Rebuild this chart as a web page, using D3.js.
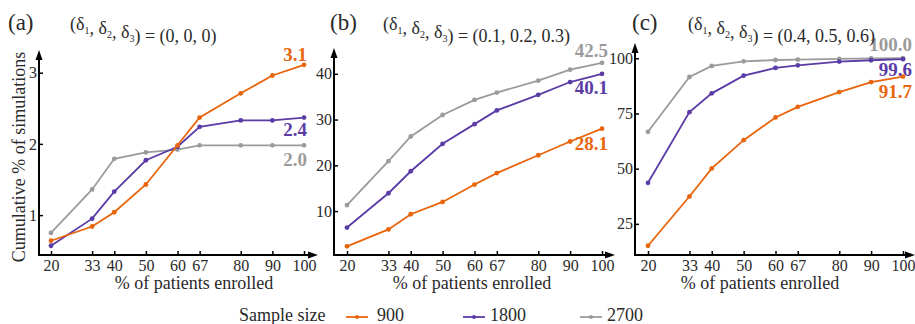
<!DOCTYPE html>
<html>
<head>
<meta charset="utf-8">
<script src="https://cdn.jsdelivr.net/npm/d3@7"></script>
</head>
<body style="margin:0; background:#fff">
<svg id="chart" width="915" height="324" font-family="Liberation Serif" style="display:block"></svg>
<script>

// % of patients enrolled (x categories)
var enrolled = [20, 33, 40, 50, 60, 67, 80, 90, 100];
var sampleSizes = ["900", "1800", "2700"];
var colours = ["#e8650c", "#5b3ba6", "#9b9b9b"];

// panel (a): deltas = (0, 0, 0)
var a900  = [0.64, 0.84, 1.04, 1.43, 1.98, 2.37, 2.71, 2.96, 3.11];
var a1800 = [0.57, 0.95, 1.33, 1.77, 1.96, 2.24, 2.33, 2.33, 2.37];
var a2700 = [0.75, 1.36, 1.79, 1.88, 1.92, 1.98, 1.98, 1.98, 1.98];
var aTicks = [1, 2, 3];
var aLabels = ["3.1", "2.4", "2.0"];

// panel (b): deltas = (0.1, 0.2, 0.3)
var b900  = [2.3, 6.0, 9.3, 12.0, 15.8, 18.3, 22.2, 25.2, 28.0];
var b1800 = [6.4, 13.9, 18.7, 24.7, 29.0, 32.0, 35.4, 38.2, 40.0];
var b2700 = [11.3, 20.9, 26.3, 31.0, 34.3, 35.9, 38.5, 40.9, 42.4];
var bTicks = [10, 20, 30, 40];
var bLabels = ["28.1", "40.1", "42.5"];

// panel (c): deltas = (0.4, 0.5, 0.6)
var c900  = [15.1, 37.4, 50.1, 62.9, 73.2, 78.0, 84.7, 89.2, 91.7];
var c1800 = [43.6, 75.6, 84.1, 92.1, 95.6, 96.8, 98.5, 99.1, 99.6];
var c2700 = [66.7, 91.5, 96.5, 98.6, 99.2, 99.4, 99.7, 99.9, 100.0];
var cTicks = [25, 50, 75, 100];
var cLabels = ["91.7", "99.6", "100.0"];

var svg = d3.select("#chart");
var textColour = "#2a2a2a";

var panels = [
    { tag: "(a)", deltas: ["0", "0", "0"], series: [a900, a1800, a2700], ticks: aTicks, labels: aLabels,
      axisX: 39, axisEnd: 316, xRange: [51, 304], yDomain: [0.44, 3.29], yTop: 52,
      tagX: 8, titleX: 70, xTitleX: 194, labelX: 307, labelY: [61, 136, 166] },
    { tag: "(b)", deltas: ["0.1", "0.2", "0.3"], series: [b900, b1800, b2700], ticks: bTicks, labels: bLabels,
      axisX: 334, axisEnd: 613, xRange: [347, 602], yDomain: [0.4, 45.2], yTop: 50,
      tagX: 330, titleX: 383, xTitleX: 472, labelX: 608, labelY: [150, 94, 57] },
    { tag: "(c)", deltas: ["0.4", "0.5", "0.6"], series: [c900, c1800, c2700], ticks: cTicks, labels: cLabels,
      axisX: 635, axisEnd: 913, xRange: [648, 903], yDomain: [10.9, 106], yTop: 45,
      tagX: 632, titleX: 688, xTitleX: 760, labelX: 912, labelY: [98, 76, 51] }
];

var axisY = 255;

function addArrow(x, y, dir) {
    // small filled arrow head, dir "up" or "right"
    var p = dir === "up"
        ? [[x, y - 2], [x - 3.5, y + 8], [x + 3.5, y + 8]]
        : [[x + 2, y], [x - 8, y - 3.5], [x - 8, y + 3.5]];
    svg.append("path")
        .attr("d", "M" + p.join("L") + "Z")
        .attr("fill", "#000");
}

function styleAxis(g) {
    g.attr("font-family", "Liberation Serif").attr("font-size", 16);
    g.select(".domain").remove();
    g.selectAll(".tick text").attr("fill", textColour);
    g.selectAll(".tick line").attr("stroke", "#000").attr("stroke-width", 1.5);
}

function addTitle(p) {
    svg.append("text")
        .attr("x", p.tagX)
        .attr("y", 30)
        .attr("font-size", 23)
        .attr("fill", textColour)
        .text(p.tag);

    var t = svg.append("text")
        .attr("x", p.titleX)
        .attr("y", 30)
        .attr("font-size", 18)
        .attr("fill", textColour);

    ["1", "2", "3"].forEach(function(s, i) {
        t.append("tspan").text((i === 0 ? "(" : ", ") + "\u03b4");
        t.append("tspan").attr("dy", 4).attr("font-size", 10).text(s);
        t.append("tspan").attr("dy", -4).text("");
    });
    t.append("tspan").text(") = (" + p.deltas.join(", ") + ")");
}

function drawPanel(p) {

    var x = d3.scaleLinear().domain([20, 100]).range(p.xRange);
    var y = d3.scaleLinear().domain(p.yDomain).range([axisY, p.yTop]);

    // Add the X Axis (ticks point inward)
    svg.append("g")
        .attr("class", "x axis")
        .attr("transform", "translate(0," + axisY + ")")
        .call(d3.axisBottom(x).tickValues(enrolled).tickSize(-4).tickPadding(5).tickFormat(d3.format("d")))
        .call(styleAxis);

    // Add the Y Axis
    svg.append("g")
        .attr("class", "y axis")
        .attr("transform", "translate(" + p.axisX + ",0)")
        .call(d3.axisLeft(y).tickValues(p.ticks).tickSize(-4).tickPadding(2).tickFormat(d3.format("d")))
        .call(styleAxis);

    // axis lines with arrows
    svg.append("line")
        .attr("x1", p.axisX - 1).attr("x2", p.axisEnd - 4)
        .attr("y1", axisY).attr("y2", axisY)
        .attr("stroke", "#000").attr("stroke-width", 2);
    addArrow(p.axisEnd, axisY, "right");

    svg.append("line")
        .attr("x1", p.axisX).attr("x2", p.axisX)
        .attr("y1", axisY + 1).attr("y2", p.yTop + 4)
        .attr("stroke", "#000").attr("stroke-width", 2);
    addArrow(p.axisX, p.yTop, "up");

    var line = d3.line()
        .x(function(d, i) { return x(enrolled[i]); })
        .y(function(d) { return y(d); });

    // draw back to front: 2700 first so 900 sits on top
    for (var k = p.series.length - 1; k >= 0; k--) {
        var values = p.series[k];
        svg.append("path")
            .datum(values)
            .attr("fill", "none")
            .attr("stroke", colours[k])
            .attr("stroke-width", 1.8)
            .attr("d", line);

        svg.append("g").selectAll(".dot")
            .data(values)
            .enter().append("circle")
            .attr("class", "dot")
            .attr("r", 2.4)
            .attr("cx", function(d, i) { return x(enrolled[i]); })
            .attr("cy", function(d) { return y(d); })
            .attr("fill", colours[k]);

        // end value label
        svg.append("text")
            .attr("x", p.labelX)
            .attr("y", p.labelY[k])
            .attr("text-anchor", "end")
            .attr("font-size", 19)
            .attr("font-weight", "bold")
            .attr("fill", colours[k])
            .text(p.labels[k]);
    }

    // x axis title
    svg.append("text")
        .attr("x", p.xTitleX)
        .attr("y", 289)
        .attr("text-anchor", "middle")
        .attr("font-size", 18)
        .attr("fill", textColour)
        .text("% of patients enrolled");

    addTitle(p);
}

panels.forEach(drawPanel);

// y axis title (shared, on the left)
svg.append("text")
    .attr("transform", "translate(25,157) rotate(-90)")
    .attr("text-anchor", "middle")
    .attr("font-size", 18)
    .attr("fill", textColour)
    .text("Cumulative % of simulations");

// legend
var legend = svg.append("g").attr("class", "legend");
legend.append("text")
    .attr("x", 239).attr("y", 321)
    .attr("font-size", 18).attr("fill", textColour)
    .text("Sample size");

var legendX = [346, 463, 580];
sampleSizes.forEach(function(s, i) {
    var lx = legendX[i];
    legend.append("line")
        .attr("x1", lx).attr("x2", lx + 22)
        .attr("y1", 317).attr("y2", 317)
        .attr("stroke", colours[i]).attr("stroke-width", 1.8);
    legend.append("circle")
        .attr("cx", lx + 11).attr("cy", 317).attr("r", 2)
        .attr("fill", colours[i]);
    legend.append("text")
        .attr("x", lx + (i === 0 ? 31 : 27)).attr("y", 321)
        .attr("font-size", 18).attr("fill", textColour)
        .text(s);
});

</script>
</body>
</html>
